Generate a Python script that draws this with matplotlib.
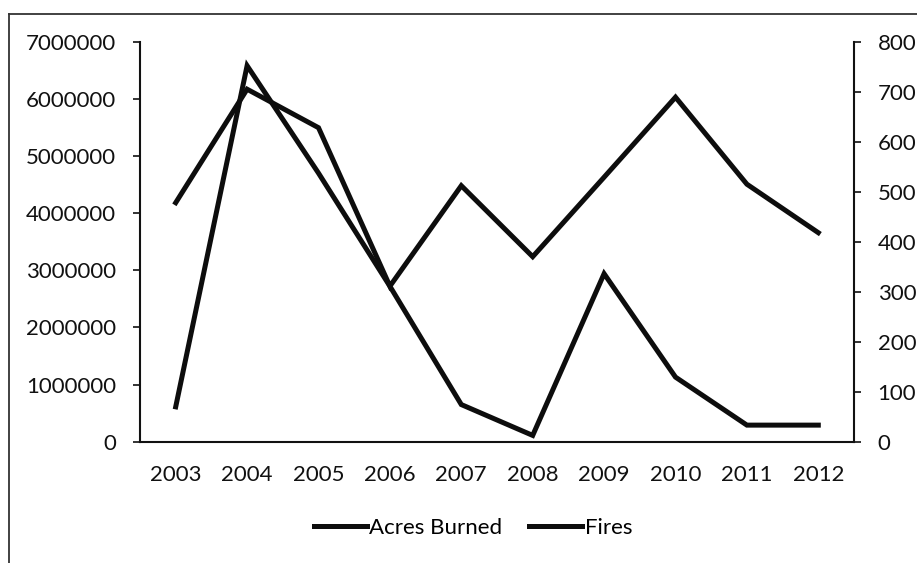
import matplotlib
matplotlib.use("Agg")
import matplotlib.pyplot as plt
from matplotlib.lines import Line2D
from matplotlib.ticker import MultipleLocator, FuncFormatter

years = ["2003", "2004", "2005", "2006", "2007", "2008", "2009", "2010", "2011", "2012"]
acres_burned = [610000, 6580000, 4700000, 2720000, 650000, 110000, 2940000, 1130000, 290000, 290000]
fires = [478, 705, 628, 311, 512, 370, 529, 689, 515, 418]

W, H = 917, 563
plt.rcParams['font.family'] = ['Lato', 'DejaVu Sans']
fig = plt.figure(figsize=(W / 100, H / 100), dpi=100)
fig.patch.set_facecolor('white')

ax = fig.add_axes([140 / W, 1 - 441.7 / H, (854 - 140) / W, 400 / H])
ax2 = ax.twinx()

x = list(range(len(years)))
ln1, = ax.plot(x, acres_burned, color='#0d0d0d', lw=3.6, solid_joinstyle='miter', label='Acres Burned')
ln2, = ax2.plot(x, fires, color='#0d0d0d', lw=3.6, solid_joinstyle='miter', label='Fires')

ax.set_xlim(-0.5, len(years) - 0.5)
ax.set_ylim(0, 7000000)
ax2.set_ylim(0, 800)
ax.yaxis.set_major_locator(MultipleLocator(1000000))
ax.yaxis.set_major_formatter(FuncFormatter(lambda v, p: f"{int(round(v))}"))
ax2.yaxis.set_major_locator(MultipleLocator(100))
ax.set_xticks(x)
ax.set_xticklabels(years)

fs = 16
for a in (ax, ax2):
    a.spines['top'].set_visible(False)
    for s in a.spines.values():
        s.set_linewidth(1.5)
        s.set_color('#111111')
ax.spines['right'].set_visible(False)
ax2.spines['left'].set_visible(False)
ax2.spines['bottom'].set_visible(False)

ax.tick_params(axis='y', direction='out', length=5, width=1.2, pad=12, labelsize=fs, colors='#111111')
ax2.tick_params(axis='y', direction='out', length=5, width=1.2, pad=12, labelsize=fs, colors='#111111')
ax.tick_params(axis='x', length=0, pad=17, labelsize=fs, colors='#111111')

fig.legend(handles=[ln1, ln2], labels=['Acres Burned', 'Fires'], loc='center',
           bbox_to_anchor=(473 / W, 1 - 528 / H), ncol=2, frameon=False,
           fontsize=fs, handlelength=2.4, handletextpad=0.1, columnspacing=1.2)

# outer chart border (scanned frame)
fig.add_artist(Line2D([9 / W, 1], [1 - 13.5 / H, 1 - 13.5 / H], transform=fig.transFigure, color='#333333', lw=1.3))
fig.add_artist(Line2D([9 / W, 9 / W], [0, 1 - 13.5 / H], transform=fig.transFigure, color='#333333', lw=1.3))

fig.savefig('out.png', dpi=100)
